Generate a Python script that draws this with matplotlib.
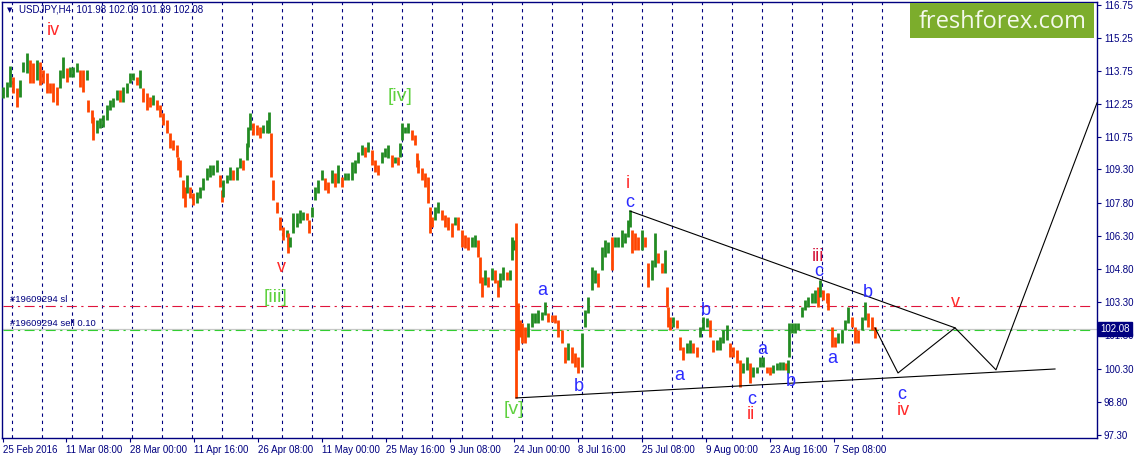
import matplotlib
matplotlib.use("Agg")
import matplotlib.pyplot as plt
import matplotlib.transforms as mtrans
from matplotlib.patches import Rectangle
import numpy as np

# ---------------- data ----------------
bar_x = [3,7,10,13,17,20,23,27,30,33,37,40,43,47,50,53,57,60,63,67,70,73,77,80,83,87,88,92,93,97,
         100,103,107,110,113,117,120,123,127,130,133,137,140,143,147,150,153,157,160,163,167,170,173,177,178,180,183,185,187,190,
         193,197,200,203,207,210,213,217,220,222,223,227,230,233,237,240,243,247,248,250,253,257,260,263,267,269,271,273,277,280,
         283,287,288,290,293,297,300,303,307,309,312,315,318,322,325,328,332,335,338,342,345,348,352,355,358,362,365,368,372,375,
         378,382,385,388,392,395,398,400,402,405,408,412,415,417,418,422,425,428,430,432,435,438,442,445,448,452,455,458,462,465,
         468,472,475,478,480,482,485,488,492,495,498,500,503,507,510,512,514,516,518,520,522,525,528,532,535,538,542,545,548,552,
         555,558,562,565,568,572,575,578,582,585,588,592,595,598,602,605,608,612,615,618,622,625,628,630,632,635,638,642,645,648,
         652,655,658,662,665,667,668,670,673,677,680,683,687,690,693,697,700,703,707,710,713,717,720,723,727,730,733,737,740,743,
         747,750,753,757,760,763,767,770,773,777,780,783,786,788,789,792,795,798,802,805,808,812,815,818,820,823,827,828,832,835,
         838,842,845,848,852,855,858,862,865,868,872,875]

bar_high = [113.03,113.26,113.98,113.48,112.98,113.35,114.16,114.57,114.25,114.11,114.25,114.16,113.80,113.66,113.21,113.21,113.03,113.80,114.38,113.89,113.93,113.93,114.11,113.80,113.80,113.80,112.44,111.99,111.67,111.54,
            111.63,111.76,112.22,112.44,112.53,112.89,112.89,113.03,113.21,113.66,113.66,113.48,113.80,112.98,112.76,112.58,112.67,112.44,112.22,111.85,111.54,110.95,110.63,110.41,109.86,109.73,108.82,108.51,109.05,108.51,
            108.24,108.28,108.51,108.92,109.37,109.50,109.50,109.73,109.05,108.37,108.82,109.05,109.41,109.28,109.41,109.82,109.73,110.50,111.22,111.85,111.40,111.31,111.22,111.31,111.54,111.90,110.95,108.82,107.83,107.15,
            106.70,106.57,106.43,106.25,107.33,107.33,107.47,107.38,107.33,107.02,107.61,108.51,108.82,109.28,108.92,108.74,109.28,109.14,109.50,108.96,109.14,109.14,109.64,109.73,110.09,110.41,110.32,110.54,110.18,109.73,
            109.50,110.09,110.27,110.41,109.96,109.86,109.86,110.50,111.40,111.22,111.40,111.09,110.86,110.05,109.73,109.37,109.14,108.96,107.61,107.15,107.61,107.83,107.47,107.24,107.15,106.88,107.15,107.15,106.57,106.34,
            106.25,106.25,106.34,106.11,105.35,104.44,104.76,104.44,104.85,104.76,104.30,104.62,104.89,104.67,104.76,106.25,106.11,106.88,103.27,102.50,102.36,102.18,102.36,102.81,102.81,102.95,102.86,103.31,102.81,102.72,
            102.72,102.50,102.05,101.28,101.46,101.28,101.01,100.83,101.91,102.95,103.54,104.89,104.76,104.62,105.80,106.11,106.02,106.25,106.25,106.25,106.57,106.43,107.02,107.47,106.57,106.43,106.25,106.57,106.25,105.07,
            105.21,106.43,105.53,105.07,105.66,103.99,103.09,102.63,102.63,102.50,101.73,101.28,101.46,101.59,101.46,101.28,102.18,102.63,102.59,102.50,101.59,101.59,101.73,102.05,102.27,101.46,101.28,101.14,100.69,100.55,
            100.83,100.55,100.37,100.37,100.83,100.83,100.37,100.37,100.46,100.55,100.60,100.60,100.55,100.69,102.36,102.36,102.36,102.36,103.09,103.40,103.54,103.72,103.85,103.99,104.30,103.85,103.72,103.72,102.18,101.73,
            101.91,102.05,102.50,103.09,102.63,102.18,102.05,102.63,103.31,102.81,102.63,102.18]

bar_low = [112.53,112.58,113.03,112.76,112.12,112.58,113.71,113.66,113.21,113.21,113.35,113.12,113.21,112.76,112.76,112.35,112.22,112.98,113.44,113.26,113.48,113.48,113.71,113.03,112.80,113.35,111.90,111.40,110.63,110.93,
           111.18,111.22,111.54,111.99,112.12,112.44,112.35,112.35,112.76,113.21,113.35,113.12,112.98,112.35,111.99,112.12,112.22,111.99,111.67,111.31,110.95,110.27,110.18,109.86,109.28,108.96,108.01,107.61,108.24,108.01,
           107.70,107.79,108.01,108.37,108.82,108.96,109.05,109.19,108.51,107.83,108.06,108.69,108.82,108.82,108.82,109.37,109.28,109.73,110.32,111.09,110.86,110.86,110.72,110.93,110.93,110.95,108.96,107.92,107.34,106.57,
           106.11,106.25,105.53,105.80,106.43,106.70,106.88,107.02,107.02,106.43,107.15,107.92,108.24,108.82,108.37,108.24,108.69,108.51,108.69,108.51,108.82,108.82,108.82,109.14,109.59,109.96,109.86,110.09,109.50,109.19,
           109.05,109.59,109.86,109.82,109.41,109.59,109.50,109.86,110.63,110.95,110.93,110.63,110.41,109.41,109.14,108.82,108.51,107.79,106.43,106.70,107.02,107.33,107.02,106.70,106.57,106.25,106.79,106.57,105.80,105.75,
           105.66,105.80,105.80,105.35,104.17,103.54,104.08,103.99,104.30,104.17,103.54,103.99,104.30,104.30,104.30,105.21,105.66,98.97,101.14,101.73,101.46,101.46,101.73,102.18,102.36,102.36,102.50,102.72,102.41,102.41,
           102.36,101.73,101.46,100.55,100.69,100.55,100.37,100.10,100.37,102.18,102.81,103.85,104.17,103.99,104.76,105.35,105.53,104.76,105.80,105.80,105.80,105.98,106.25,106.70,105.53,105.66,105.66,105.66,105.80,103.99,
           104.30,104.89,105.07,104.62,104.62,103.09,102.18,102.05,102.18,102.14,101.14,100.69,101.01,101.01,101.01,100.83,101.73,102.05,102.18,101.73,101.05,101.14,101.14,101.46,101.59,100.83,100.83,100.55,99.47,100.10,
           100.24,99.65,99.92,100.10,100.37,100.37,100.10,100.01,100.10,100.24,100.24,100.24,100.24,100.10,100.83,101.91,101.91,102.05,102.63,102.95,103.09,103.27,103.27,103.09,103.54,103.40,103.27,102.95,101.28,101.28,
           101.46,101.46,102.05,102.36,102.18,101.46,101.46,102.05,102.50,102.18,102.05,101.69]

assert len(bar_x) == len(bar_high) == len(bar_low), (len(bar_x), len(bar_high), len(bar_low))

# time axis labels
date_ticks = [3, 66, 130, 194, 258, 322, 386, 450, 514, 578, 642, 706, 770, 834]
date_labels = ["25 Feb 2016", "11 Mar 08:00", "28 Mar 00:00", "11 Apr 16:00", "26 Apr 08:00",
               "11 May 00:00", "25 May 16:00", "9 Jun 08:00", "24 Jun 00:00", "8 Jul 16:00",
               "25 Jul 08:00", "9 Aug 00:00", "23 Aug 16:00", "7 Sep 08:00"]
price_labels = ["116.75", "115.25", "113.75", "112.25", "110.75", "109.30", "107.80",
                "106.30", "104.80", "103.30", "101.80", "100.30", "98.80", "97.30"]

# order lines and current price
sl_price = 103.13
sell_price = 102.04
bid_price = 102.08

# triangle and projected path
upper_x = [630, 955]
upper_y = [107.42, 102.14]
lower_x = [516, 1055]
lower_y = [98.97, 100.28]
path_x = [875, 898, 955, 996, 1097]
path_y = [102.14, 100.10, 102.14, 100.24, 112.31]

# wave labels
wave_text = ["iv", "[iv]", "v", "[iii]", "[v]", "a", "b", "i", "c", "b", "a", "a", "c", "ii",
             "b", "iii", "c", "a", "b", "v", "c", "iv"]
wave_x = [53, 400, 281, 276, 514, 542, 579, 628, 630, 706, 679, 762, 752, 751,
          791, 818, 819, 832, 868, 955, 902, 903]
wave_y = [115.56, 112.58, 104.89, 103.49, 98.43, 103.85, 99.50, 108.68, 107.79, 102.92, 99.99, 101.14, 98.90, 98.22,
          99.70, 105.35, 104.68, 100.74, 103.72, 103.27, 99.11, 98.40]
wave_kind = ["r", "g", "r", "g", "g", "b", "b", "r", "b", "b", "b", "b", "b", "r",
             "b", "d", "b", "b", "b", "r", "b", "r"]

# ---------------- drawing ----------------
NAVY = "#000080"
W, H = 1137, 459
fig = plt.figure(figsize=(W / 100, H / 100), dpi=100)
ax = fig.add_axes([2 / W, 21 / H, 1095 / W, 436 / H])
ax.set_xlim(2, 1097)
ax.set_ylim(97.16, 116.87)

for s in ax.spines.values():
    s.set_color(NAVY)
    s.set_linewidth(1.0)

# weekly separators
for xv in np.arange(12, 890, 30):
    ax.axvline(xv, color=NAVY, lw=0.8, dashes=(3, 3.5), zorder=1)

# bid / order lines
ax.hlines(bid_price, 2, 1097, colors="#c8c8c8", lw=0.9, zorder=1.5)
ax.hlines(sell_price, 3, 1090, colors="#32cd32", lw=0.8, linestyles=(0, (9, 4, 2, 4)), zorder=1.6)
ax.hlines(sl_price, 3, 1090, colors="#e0143c", lw=0.8, linestyles=(0, (9, 4, 2, 4)), zorder=1.6)
ax.text(10, 103.40, "#19609294 sl", color=NAVY, fontsize=6.8, family="Liberation Sans", va="center", ha="left")
ax.text(10, 102.32, "#19609294 sell 0.10", color=NAVY, fontsize=6.8, family="Liberation Sans", va="center", ha="left")

# price bars
hi = np.array(bar_high)
lo = np.array(bar_low)
mid = (hi + lo) / 2
up = np.r_[True, mid[1:] >= mid[:-1]]
cols = np.where(up, "#228b22", "#ff4500")
ax.vlines(bar_x, lo, hi, colors=cols, lw=2.0, zorder=3)

# triangle + projection
ax.plot(upper_x, upper_y, color="black", lw=0.8, zorder=4)
ax.plot(lower_x, lower_y, color="black", lw=0.8, zorder=4)
ax.plot(path_x, path_y, color="black", lw=0.8, zorder=4, clip_on=False)

# wave labels
cmap = {"r": "#ff2a2a", "g": "#5fd13f", "b": "#2b2bff", "d": "#d4143a"}
for t, xv, yv, k in zip(wave_text, wave_x, wave_y, wave_kind):
    ax.text(xv, yv, t, color=cmap[k], fontsize=13 if k != "g" else 14, family="Liberation Sans",
            ha="center", va="center", zorder=5)

# axes ticks
price_vals = [float(p) for p in price_labels]
ax.yaxis.tick_right()
ax.set_yticks(price_vals)
ax.set_yticklabels(price_labels)
ax.tick_params(axis="y", direction="out", length=3, width=0.8, color=NAVY, labelcolor=NAVY,
               labelsize=7, pad=2)
ax.set_xticks(date_ticks)
ax.set_xticklabels(date_labels, ha="left")
ax.tick_params(axis="x", direction="out", length=3, width=0.8, color=NAVY, labelcolor=NAVY,
               labelsize=7, pad=2)
for lab in ax.get_xticklabels() + ax.get_yticklabels():
    lab.set_family("Liberation Sans")

# current price marker
trans = mtrans.blended_transform_factory(ax.transAxes, ax.transData)
ax.text(1.0 + 3 / 1095, bid_price, "102.08", transform=trans, color="white", fontsize=7,
        family="Liberation Sans", ha="left", va="center", zorder=6, clip_on=False,
        bbox=dict(boxstyle="square,pad=0.22", fc=NAVY, ec=NAVY))

# header
ax.text(5 / 1095, 1 - 8 / 436, "\u25bc", transform=ax.transAxes, color=NAVY, fontsize=5,
        family="DejaVu Sans", ha="left", va="center")
ax.text(17 / 1095, 1 - 8 / 436, "USDJPY,H4  101.98 102.09 101.89 102.08", transform=ax.transAxes,
        color=NAVY, fontsize=7, family="Liberation Sans", ha="left", va="center")

# logo
fig.patches.append(Rectangle((910 / W, 1 - 38 / H), 184 / W, 35 / H, transform=fig.transFigure,
                             fc="#7cad2c", ec="none", zorder=5))
fig.text(1003 / W, 1 - 28 / H, "freshforex.com", color="#f4f9ec", fontsize=17, family="Open Sans",
         ha="center", va="baseline", zorder=6)

fig.savefig("out.png", dpi=100)
